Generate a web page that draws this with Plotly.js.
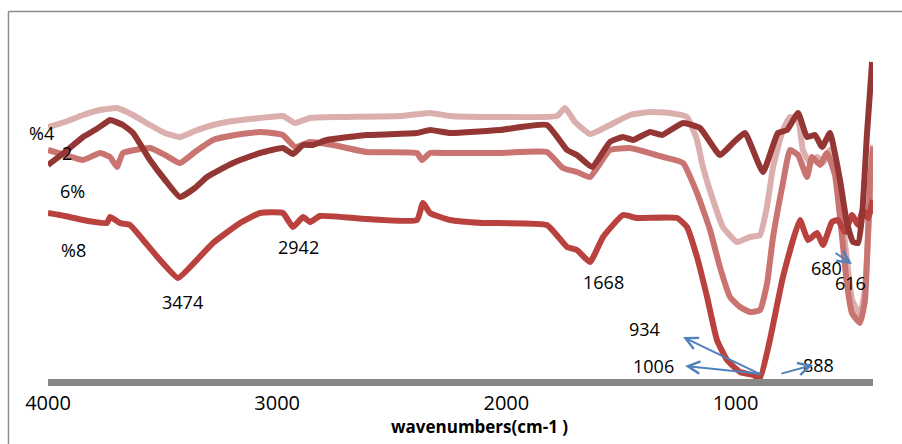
<!DOCTYPE html>
<html>
<head>
<meta charset="utf-8">
<script src="https://cdn.plot.ly/plotly-3.0.1.min.js"></script>
<style>html,body{margin:0;padding:0;background:#fff;}#chart{width:902px;height:444px;}</style>
</head>
<body>
<div id="chart"></div>
<script>
// Wavenumbers (cm-1) and relative transmittance (a.u.)
const wnA = [4000,3926,3847,3773,3699,3629,3555,3490,3424,3359,3280,3193,3075,2975,2922,2857,2726,2464,2333,2246,2028,1779,1744,1700,1635,1548,1460,1373,1286,1212,1168,1142,1098,1055,994,937,893,863,836,793,762,727,706,675,644,618,588,557,544,514,492,457,435,413,400];
const tA  = [252,257,264,269,271,264,254,246,242,248,254,258,261,263,256,261,262,263,266,263,262,263,271,257,245,254,264,267,266,262,239,212,179,152,137,142,144,172,212,249,262,259,229,216,222,216,229,202,180,120,80,64,90,180,234];

const wnB = [4000,3926,3847,3773,3729,3699,3673,3555,3489,3424,3359,3280,3184,3075,2975,2922,2857,2756,2608,2390,2368,2333,2246,2028,1823,1753,1692,1635,1548,1460,1316,1229,1168,1111,1068,1024,980,937,893,862,836,793,762,727,688,666,631,601,566,544,514,492,457,435,413,400];
const tB  = [229,224,219,226,222,212,226,231,224,216,227,239,244,247,244,232,237,234,227,226,219,226,226,226,227,211,207,202,229,231,222,216,186,149,112,82,72,67,69,96,142,196,229,224,202,222,214,226,204,162,96,66,56,79,196,232];

const wnC = [4000,3926,3847,3795,3743,3729,3673,3629,3555,3489,3424,3359,3306,3193,3075,2975,2931,2887,2844,2783,2608,2390,2333,2246,2028,1823,1735,1692,1626,1548,1491,1447,1373,1321,1229,1155,1068,1011,959,880,815,775,727,688,653,622,588,544,514,487,465,448,426,404];
const tC  = [214,227,242,249,257,259,254,246,219,199,182,191,202,216,226,231,225,234,234,239,244,246,249,246,249,254,229,224,212,237,242,239,247,244,256,251,224,236,246,207,246,249,266,242,244,232,246,199,156,137,136,162,246,317];

const wnD = [4000,3926,3847,3795,3743,3729,3686,3642,3585,3511,3433,3359,3280,3162,3075,2975,2931,2887,2857,2813,2608,2390,2364,2333,2246,2102,1823,1735,1692,1635,1578,1491,1430,1255,1212,1168,1124,1081,1037,980,924,893,850,793,719,684,644,618,579,553,522,492,465,444,422,400];
const tD  = [166,163,159,157,156,162,156,154,139,119,101,117,136,156,166,166,152,162,157,163,160,159,176,166,159,156,154,132,129,117,142,164,161,161,152,122,82,39,19,7,4,1,39,102,159,139,146,134,157,159,147,164,154,169,161,179];

const tickVals = [4000,3000,2000,1000];
const tickText = ['4000','3000','2000','1000'];

const seriesNames = ['%4','%2','6%','%8'];

// text labels in data units: [text, wavenumber, transmittance]
const labelText = ['2','6%','%8','3474','2942','1668','934','1006','888','680','616'];
const labelX    = [3917,3891,3887,3411,2909,1578,1395,1360,636,603,500];
const labelY    = [226,188,129,77.5,132,97,50.5,13,14.5,111.5,96.5];

// arrows: head (x,y) and tail (ax,ay)
const arrowX  = [1229,1220,662,492];
const arrowY  = [42,13,14,115];
const arrowAX = [884,884,806,570];
const arrowAY = [4,5,5,127];

const colors = ['#DBAFAE','#CA7472','#B9423F','#943634'];
const xs = [wnA,wnB,wnD,wnC];
const ys = [tA,tB,tD,tC];
const names = [seriesNames[0],seriesNames[1],seriesNames[3],seriesNames[2]];

const traces = xs.map((x,i)=>({
  type:'scatter', mode:'lines', x:x, y:ys[i], name:names[i],
  line:{color:colors[i], width:6, shape:'spline', smoothing:0.4}, hoverinfo:'x+y'
}));

const annotations = [];
// label left of the plotting area (placed in paper units)
annotations.push({x:-0.0073, y:0.6852, xref:'paper', yref:'paper', text:'%4', showarrow:false,
  font:{family:'Open Sans, sans-serif', size:18, color:'#000'}, xanchor:'center', yanchor:'middle'});
labelText.forEach((t,i)=>{
  annotations.push({x:labelX[i], y:labelY[i], xref:'x', yref:'y', text:t, showarrow:false,
    font:{family:'Open Sans, sans-serif', size:18, color:'#000'}, xanchor:'center', yanchor:'middle'});
});
arrowX.forEach((x,i)=>{
  annotations.push({x:x, y:arrowY[i], ax:arrowAX[i], ay:arrowAY[i], xref:'x', yref:'y', axref:'x', ayref:'y',
    text:'', showarrow:true, arrowhead:5, arrowsize:1.2, arrowwidth:2, arrowcolor:'#4F81BD', standoff:0, startstandoff:0});
});
annotations.push({x:0.5236, y:-0.1330, xref:'paper', yref:'paper', text:'<b>wavenumbers(cm-1 )</b>', showarrow:false,
  font:{family:'Open Sans, sans-serif', size:17, color:'#000'}, xanchor:'center', yanchor:'middle'});

const layout = {
  width:902, height:444,
  margin:{l:48, r:29, t:20, b:65},
  paper_bgcolor:'#fff', plot_bgcolor:'#fff',
  showlegend:false,
  xaxis:{range:[4000,400], tickvals:tickVals, ticktext:tickText, showgrid:false, zeroline:false,
    showline:true, linecolor:'#878787', linewidth:7, ticks:'',
    tickfont:{family:'Open Sans, sans-serif', size:20, color:'#000'}},
  yaxis:{range:[0,359], visible:false, showgrid:false, zeroline:false},
  annotations:annotations,
  shapes:[
    {type:'line', xref:'paper', yref:'paper', x0:-0.0479, x1:1.04, y0:1.0237, y1:1.0237, line:{color:'#8C8C8C', width:1.5}},
    {type:'line', xref:'paper', yref:'paper', x0:-0.0479, x1:-0.0479, y0:1.0237, y1:-0.19, line:{color:'#8C8C8C', width:1.5}}
  ]
};

Plotly.newPlot('chart', traces, layout, {displayModeBar:false, staticPlot:true});
</script>
</body>
</html>
